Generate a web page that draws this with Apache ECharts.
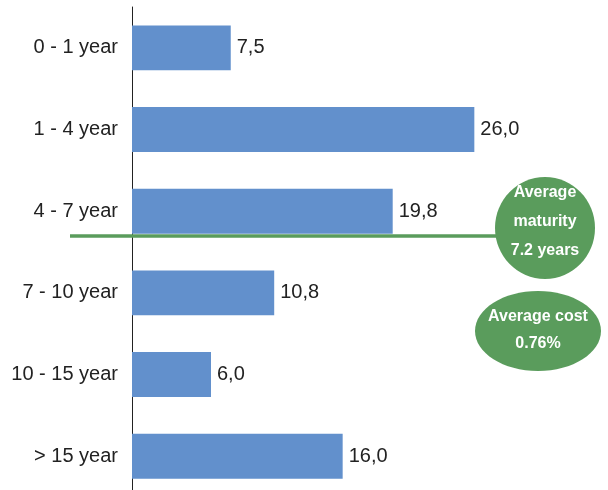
<!DOCTYPE html>
<html><head><meta charset="utf-8">
<script src="https://cdn.jsdelivr.net/npm/echarts@6/dist/echarts.min.js"></script>
<style>html,body{margin:0;padding:0;background:#fff;overflow:hidden}#c{width:608px;height:510px}</style>
</head><body><div id="c"></div>
<script>
var categories = ['0 - 1 year', '1 - 4 year', '4 - 7 year', '7 - 10 year', '10 - 15 year', '> 15 year'];
var values = [7.5, 26.0, 19.8, 10.8, 6.0, 16.0];
var maturityText = ['Average', 'maturity', '7.2 years'];
var costText = ['Average cost', '0.76%'];

var chart = echarts.init(document.getElementById('c'), null, {renderer: 'canvas'});
var green = '#5a9c5c';
var font = 'Liberation Sans, Arial, sans-serif';
function txt(x, y, s) {
  return {type: 'text', x: x, y: y, z: 12,
    style: {text: s, fill: '#fff', font: 'bold 16px ' + font, align: 'center', verticalAlign: 'middle'}};
}
chart.setOption({
  animation: false,
  grid: {left: 132, top: 7, width: 474, height: 490, containLabel: false},
  xAxis: {type: 'value', min: 0, max: 36, show: false},
  yAxis: {
    type: 'category', data: categories, inverse: true,
    axisLine: {show: true, lineStyle: {color: '#222', width: 1}},
    axisTick: {show: false},
    axisLabel: {color: '#222', fontSize: 20, fontFamily: font, margin: 14}
  },
  series: [{
    type: 'bar', data: values, barCategoryGap: '45%',
    itemStyle: {color: '#6290cc'},
    label: {show: true, position: 'right', distance: 6, color: '#222', fontSize: 20, fontFamily: font,
      formatter: function (p) { return p.value.toFixed(1).replace('.', ','); }}
  }],
  graphic: [
    {type: 'line', shape: {x1: 70, y1: 236, x2: 500, y2: 236}, style: {stroke: green, lineWidth: 3.5}, z: 10},
    {type: 'ellipse', shape: {cx: 545, cy: 228, rx: 50, ry: 51}, style: {fill: green}, z: 11},
    txt(545, 193, maturityText[0]),
    txt(545, 222, maturityText[1]),
    txt(545, 251, maturityText[2]),
    {type: 'ellipse', shape: {cx: 538, cy: 331, rx: 63, ry: 40}, style: {fill: green}, z: 11},
    txt(538, 317, costText[0]),
    txt(538, 344, costText[1])
  ]
});
</script></body></html>
